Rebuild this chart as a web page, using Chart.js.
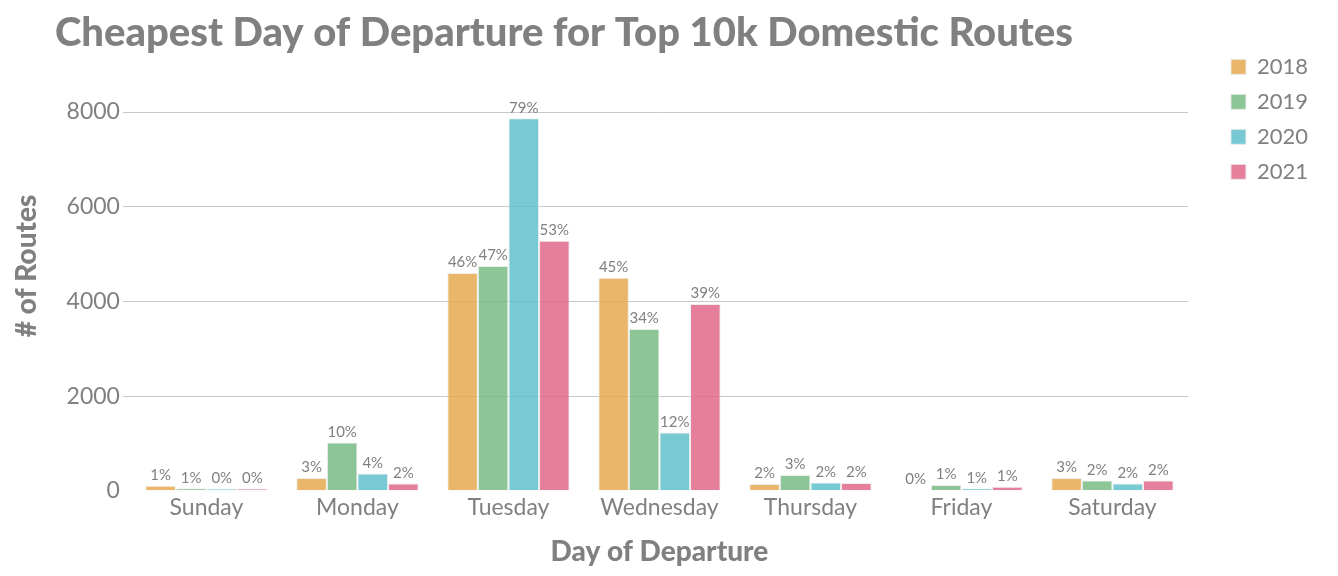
<!DOCTYPE html>
<html>
<head>
<meta charset="utf-8">
<script src="https://cdn.jsdelivr.net/npm/chart.js@4.4.0/dist/chart.umd.min.js"></script>
<style>
  html, body { margin: 0; padding: 0; background: #fff; }
  #wrap { width: 1338px; height: 576px; }
</style>
</head>
<body>
<div id="wrap"><canvas id="chart" width="1338" height="576"></canvas></div>
<script>
// Data
const days = ['Sunday', 'Monday', 'Tuesday', 'Wednesday', 'Thursday', 'Friday', 'Saturday'];
const years = ['2018', '2019', '2020', '2021'];
const routes2018 = [105, 270, 4600, 4500, 142, 15, 270];
const routes2019 = [55, 1020, 4750, 3415, 333, 120, 220];
const routes2020 = [45, 367, 7870, 1230, 176, 50, 155];
const routes2021 = [45, 155, 5280, 3945, 163, 85, 220];
const pct2018 = ['1%', '3%', '46%', '45%', '2%', '0%', '3%'];
const pct2019 = ['1%', '10%', '47%', '34%', '3%', '1%', '2%'];
const pct2020 = ['0%', '4%', '79%', '12%', '2%', '1%', '2%'];
const pct2021 = ['0%', '2%', '53%', '39%', '2%', '1%', '2%'];
const yTicks = [0, 2000, 4000, 6000, 8000];

const colors = ['rgba(230,170,80,0.85)', 'rgba(120,188,132,0.85)', 'rgba(95,193,204,0.85)', 'rgba(226,104,138,0.85)'];
const allValues = [routes2018, routes2019, routes2020, routes2021];
const allPct = [pct2018, pct2019, pct2020, pct2021];

const fontFamily = 'Lato, "Open Sans", sans-serif';
const grey = '#808080';

// Draw the percentage above each bar, and nudge the title to the right
const barLabels = {
    id: 'barLabels',
    afterLayout(chart) {
        if (chart.titleBlock) {
            chart.titleBlock.left = 55;
        }
    },
    afterDatasetsDraw(chart) {
        const ctx = chart.ctx;
        ctx.save();
        ctx.font = '15px ' + fontFamily;
        ctx.fillStyle = grey;
        ctx.textAlign = 'center';
        ctx.textBaseline = 'bottom';
        chart.data.datasets.forEach((ds, i) => {
            chart.getDatasetMeta(i).data.forEach((bar, j) => {
                ctx.fillText(allPct[i][j], bar.x, bar.y - 3);
            });
        });
        ctx.restore();
    }
};

new Chart(document.getElementById('chart'), {
    type: 'bar',
    data: {
        labels: days,
        datasets: years.map((y, i) => ({
            label: y,
            data: allValues[i],
            backgroundColor: colors[i],
            borderColor: 'rgba(235,235,235,0.9)',
            borderWidth: 1,
            categoryPercentage: 0.81,
            barPercentage: 1.0
        }))
    },
    options: {
        responsive: false,
        animation: false,
        layout: { padding: { left: 10, right: 20, top: 0, bottom: 3 } },
        plugins: {
            title: {
                display: true,
                text: 'Cheapest Day of Departure for Top 10k Domestic Routes',
                align: 'start',
                color: grey,
                font: { family: fontFamily, size: 40, weight: '900' },
                padding: { top: 9, bottom: -16 }
            },
            legend: {
                position: 'right',
                align: 'start',
                title: { display: true, text: ' ', font: { size: 14 }, padding: 13 },
                labels: {
                    color: grey,
                    font: { family: fontFamily, size: 22 },
                    boxWidth: 15,
                    boxHeight: 15,
                    padding: 13
                }
            },
            tooltip: { enabled: false }
        },
        scales: {
            x: {
                grid: { display: false },
                border: { display: false },
                ticks: { color: grey, font: { family: fontFamily, size: 23 }, padding: -5 },
                title: {
                    display: true,
                    text: 'Day of Departure',
                    color: grey,
                    font: { family: fontFamily, size: 28, weight: '900' },
                    padding: { top: 19 }
                }
            },
            y: {
                min: 0,
                max: 9500,
                afterBuildTicks(axis) { axis.ticks = yTicks.map(v => ({ value: v })); },
                grid: {
                    color: ctx => ctx.tick && ctx.tick.value === 0 ? 'rgba(0,0,0,0)' : '#c8c8c8',
                    tickLength: 8
                },
                border: { display: false },
                ticks: {
                    color: grey,
                    font: { family: fontFamily, size: 23 },
                    padding: 3,
                    callback: v => String(v)
                },
                title: {
                    display: true,
                    text: '# of Routes',
                    color: grey,
                    font: { family: fontFamily, size: 28, weight: '900' },
                    padding: { top: 0, bottom: 20 }
                }
            },
            // empty axis that only keeps a gap between the bars and the legend
            gap: {
                type: 'linear',
                position: 'right',
                display: true,
                grid: { display: false },
                border: { display: false },
                ticks: { display: false },
                afterFit(scale) { scale.width = 30; }
            }
        }
    },
    plugins: [barLabels]
});
</script>
</body>
</html>
